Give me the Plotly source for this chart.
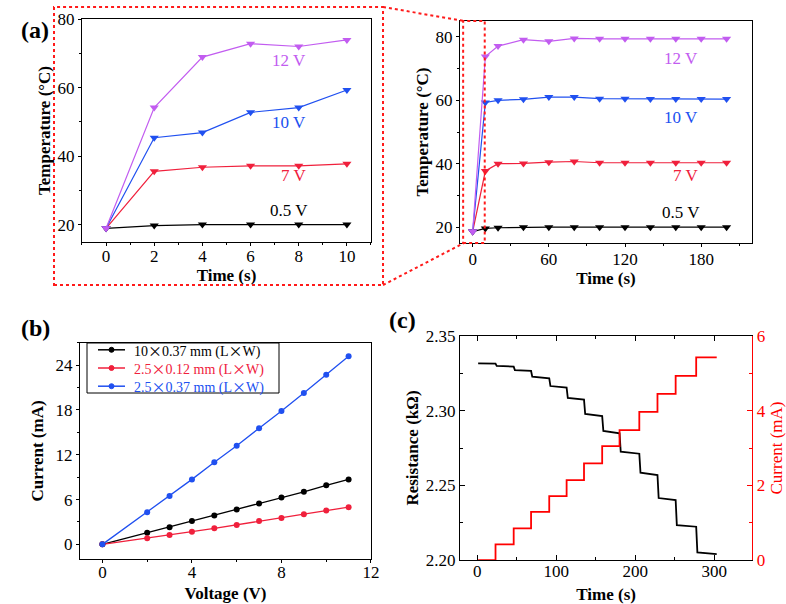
import plotly.graph_objects as go

FONT = "Liberation Serif"
BLACK = "#000000"
RED = "#F0203C"
BLUE = "#2050F0"
PURPLE = "#C25CF0"
W_PX, H_PX = 786, 604

# ---------- Panel (a) : zoom (0-10 s) ----------
t_short = [0, 2, 4, 6, 8, 10]
temp05_short = [19, 19.8, 20.1, 20.1, 20.1, 20.1]
temp7_short = [19, 35.6, 36.8, 37.2, 37.2, 37.8]
temp10_short = [19, 45.4, 46.9, 52.8, 54.2, 59.3]
temp12_short = [19, 54.2, 68.9, 72.8, 72.0, 73.9]

# ---------- Panel (a) : full (0-200 s) ----------
t_long = [0, 10, 20, 40, 60, 80, 100, 120, 140, 160, 180, 200]
temp05_long = [18.6, 19.6, 19.8, 20, 20, 20, 20, 20, 20, 20, 20, 20]
temp7_long = [18.6, 37.7, 40.0, 40.1, 40.5, 40.7, 40.3, 40.3, 40.3, 40.3, 40.3, 40.3]
temp10_long = [18.6, 59.3, 60.0, 60.3, 61.0, 61.0, 60.5, 60.5, 60.4, 60.4, 60.4, 60.4]
temp12_long = [18.6, 73.8, 77.1, 79.1, 78.6, 79.5, 79.4, 79.4, 79.4, 79.4, 79.4, 79.4]

voltage_labels = ["0.5 V", "7 V", "10 V", "12 V"]
label_x_short = [7.6, 7.8, 7.6, 7.6]
label_y_short = [24.2, 34.4, 49.9, 68.0]
label_x_long = [164, 168, 164, 164]
label_y_long = [24.6, 36.3, 54.7, 73.2]

# ---------- Panel (b) ----------
voltage = [0, 2, 3, 4, 5, 6, 7, 8, 9, 10, 11]
cur_10_037 = [0, 1.57, 2.29, 3.14, 3.86, 4.66, 5.47, 6.28, 7.04, 7.9, 8.7]
cur_25_012 = [0, 0.81, 1.26, 1.70, 2.15, 2.6, 3.14, 3.54, 4.04, 4.53, 4.98]
cur_25_037 = [0, 4.3, 6.46, 8.7, 11.0, 13.2, 15.56, 17.85, 20.27, 22.7, 25.2]
legend_lengths = ["10", "2.5", "2.5"]
legend_widths = ["0.37", "0.12", "0.37"]

# ---------- Panel (c) ----------
step_edges = [1, 23, 46, 68, 91, 113, 135, 158, 180, 205, 228, 251, 277, 303]
res_start = [2.3317, 2.3300, 2.3272, 2.3228, 2.3165, 2.3085, 2.2978, 2.2864,
             2.2725, 2.2585, 2.2415, 2.2234, 2.2051]
res_end = [2.3315, 2.3295, 2.3266, 2.3217, 2.3154, 2.3074, 2.2964, 2.2848,
           2.2712, 2.2569, 2.2402, 2.2223, 2.2040]
cur_levels = [0, 0.42, 0.85, 1.29, 1.71, 2.14, 2.59, 3.05, 3.48, 3.97, 4.45, 4.93, 5.43]

fig = go.Figure()

colors4 = [BLACK, RED, BLUE, PURPLE]
short_series = [temp05_short, temp7_short, temp10_short, temp12_short]
long_series = [temp05_long, temp7_long, temp10_long, temp12_long]

for ys, c in zip(short_series, colors4):
    fig.add_trace(go.Scatter(x=t_short, y=ys, mode="lines+markers", xaxis="x", yaxis="y",
                             line=dict(color=c, width=1.2),
                             marker=dict(symbol="triangle-down", size=8, color=c),
                             showlegend=False))
for ys, c in zip(long_series, colors4):
    fig.add_trace(go.Scatter(x=t_long, y=ys, mode="lines+markers", xaxis="x2", yaxis="y2",
                             line=dict(color=c, width=1.2),
                             marker=dict(symbol="triangle-down", size=8, color=c),
                             showlegend=False))

X = "<span style='font-family:Noto Sans CJK SC'>×</span>"
colors3 = [BLACK, RED, BLUE]
names3 = [f"{L}{X}{W} mm (L{X}W)" for L, W in zip(legend_lengths, legend_widths)]
for ys, c, nm in zip([cur_10_037, cur_25_012, cur_25_037], colors3, names3):
    fig.add_trace(go.Scatter(x=voltage, y=ys, mode="lines+markers", xaxis="x3", yaxis="y3",
                             line=dict(color=c, width=1.3),
                             marker=dict(symbol="circle", size=6, color=c),
                             name=nm, showlegend=False))

# resistance staircase
rx, ry = [], []
for i in range(len(res_start)):
    rx += [step_edges[i] + (1.5 if i > 0 else 0), step_edges[i + 1]]
    ry += [res_start[i], res_end[i]]
fig.add_trace(go.Scatter(x=rx, y=ry, mode="lines", xaxis="x4", yaxis="y4",
                         line=dict(color=BLACK, width=1.8), showlegend=False))
# current staircase
cx = step_edges
cy = cur_levels + [cur_levels[-1]]
fig.add_trace(go.Scatter(x=cx, y=cy, mode="lines", xaxis="x4", yaxis="y5",
                         line=dict(color="#FF0000", width=1.8, shape="hv"), showlegend=False))

tickfont = dict(family=FONT, size=17, color="black")
titlefont = dict(family=FONT, size=17, color="black")


def ax(domain, rng, dtick, minor, anchor, title, standoff, ticks="outside", lblshift=0, **kw):
    d = dict(domain=domain, range=rng, dtick=dtick, tick0=0, anchor=anchor,
             automargin=False,
             showline=True, linecolor="black", linewidth=1.2, mirror=True,
             ticks=ticks, ticklen=3 if ticks == "outside" else 5, tickwidth=1.2, tickcolor="black",
             ticklabelstandoff=lblshift,
             showgrid=False, zeroline=False, tickfont=tickfont,
             minor=dict(dtick=minor, tick0=0, ticks=ticks, ticklen=2 if ticks == "outside" else 3,
                        tickcolor="black", showgrid=False),
             title=dict(text=f"<b>{title}</b>", font=titlefont, standoff=standoff))
    d.update(kw)
    return d


fig.update_layout(
    width=W_PX, height=H_PX,
    margin=dict(l=0, r=0, t=0, b=0, autoexpand=False),
    paper_bgcolor="white", plot_bgcolor="white",
    font=dict(family=FONT, color="black"),
    showlegend=False,
    xaxis=ax([0.1043, 0.4720], [-1, 11], 2, 1, "y", "Time (s)", 0, lblshift=-5),
    yaxis=ax([0.5993, 0.9685], [15, 80], 20, 10, "x", "Temperature (°C)", 2),
    xaxis2=ax([0.5852, 0.9567], [-10, 220], 60, 30, "y2", "Time (s)", 0, lblshift=-2),
    yaxis2=ax([0.5977, 0.9652], [15, 85], 20, 10, "x2", "Temperature (°C)", 2),
    xaxis3=ax([0.1018, 0.4720], [-1, 12], 4, 2, "y3", "Voltage (V)", 6, lblshift=-6),
    yaxis3=ax([0.0740, 0.4326], [-2, 27], 6, 3, "x3", "Current (mA)", 7),
    xaxis4=ax([0.5852, 0.9571], [-22, 348], 100, 50, "y4", "Time (s)", 8,
              ticks="inside", mirror="ticks", lblshift=-5),
    yaxis4=ax([0.0728, 0.4437], [2.20, 2.35], 0.05, 0.025, "x4", "Resistance (kΩ)", 2,
              ticks="inside", mirror=False, tickformat=".2f"),
    yaxis5=dict(overlaying="y4", side="right", anchor="x4", range=[0, 6], dtick=2, tick0=0,
                automargin=False,
                showline=True, linecolor="#FF0000", linewidth=1.2,
                ticks="inside", ticklen=5, tickwidth=1.2, tickcolor="#FF0000",
                showgrid=False, zeroline=False,
                tickfont=dict(family=FONT, size=17, color="#FF0000"),
                minor=dict(dtick=1, ticks="inside", ticklen=3, tickcolor="#FF0000", showgrid=False),
                title=dict(text="Current (mA)", font=dict(family=FONT, size=17, color="#FF0000"), standoff=6)),
)

# ----- compact legend for panel (b) (box, sample lines/dots, coloured text) -----
LEG_FONT = 14
LEG_L, LEG_T, LEG_R, LEG_B = 87, 343, 279, 393      # legend box, pixels
ROW_GAP = LEG_FONT * 1.3
ROW_MID = (LEG_T + LEG_B) / 2
ROW_Y = [ROW_MID + (i - 1) * ROW_GAP for i in range(3)]
SAMPLE_X0, SAMPLE_X1, TEXT_X = 98, 125, 133


def px(x):
    return x / W_PX


def py(y):
    return 1 - y / H_PX


fig.add_shape(type="rect", xref="paper", yref="paper", x0=px(LEG_L), x1=px(LEG_R),
              y0=py(LEG_B), y1=py(LEG_T), line=dict(color="black", width=1), fillcolor="white",
              layer="above")
for c, yy in zip(colors3, ROW_Y):
    fig.add_shape(type="line", xref="paper", yref="paper", x0=px(SAMPLE_X0), x1=px(SAMPLE_X1),
                  y0=py(yy), y1=py(yy), line=dict(color=c, width=1.5), layer="above")
    xm = (SAMPLE_X0 + SAMPLE_X1) / 2
    fig.add_shape(type="circle", xref="paper", yref="paper", x0=px(xm - 2.5), x1=px(xm + 2.5),
                  y0=py(yy + 2.5), y1=py(yy - 2.5), line=dict(color=c, width=1), fillcolor=c,
                  layer="above")
legend_text = "<br>".join(f"<span style='color:{c}'>{nm}</span>" for nm, c in zip(names3, colors3))
fig.add_annotation(x=px(TEXT_X), y=py(ROW_MID), xref="paper", yref="paper", text=legend_text,
                   xanchor="left", yanchor="middle", align="left", showarrow=False, borderpad=0,
                   font=dict(family=FONT, size=LEG_FONT, color="black"))

# voltage labels
for txt, c, x, y in zip(voltage_labels, colors4, label_x_short, label_y_short):
    fig.add_annotation(x=x, y=y, xref="x", yref="y", text=txt, showarrow=False,
                       font=dict(family=FONT, size=17, color=c))
for txt, c, x, y in zip(voltage_labels, colors4, label_x_long, label_y_long):
    fig.add_annotation(x=x, y=y, xref="x2", yref="y2", text=txt, showarrow=False,
                       font=dict(family=FONT, size=17, color=c))

# panel labels
for txt, lx, ly in [("(a)", 0.024, 0.975), ("(b)", 0.024, 0.457), ("(c)", 0.512, 0.470)]:
    fig.add_annotation(x=lx, y=ly, xref="paper", yref="paper", text=f"<b>{txt}</b>",
                       showarrow=False, font=dict(family=FONT, size=24, color="black"))

# zoom indication (red dotted)
dot = dict(color="#FF1A1A", width=2, dash="dot")
fig.add_shape(type="rect", xref="paper", yref="paper", x0=0.0687, x1=0.4873, y0=0.5281, y1=0.9884, line=dot)
fig.add_shape(type="rect", xref="x2", yref="y2 domain", x0=-7.5, x1=9.5, y0=0, y1=1, line=dot)
fig.add_shape(type="line", xref="paper", yref="paper", x0=0.4873, y0=0.9884, x1=0.5903, y1=0.9652, line=dot)
fig.add_shape(type="line", xref="paper", yref="paper", x0=0.4873, y0=0.5281, x1=0.5903, y1=0.5977, line=dot)

fig.write_html("out.html", config={"displayModeBar": False},
               post_script="document.body.style.margin='0';document.body.style.padding='0';")
